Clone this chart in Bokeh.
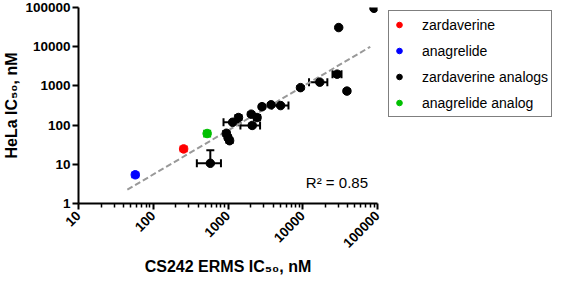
from bokeh.plotting import figure
from bokeh.models import (Range1d, FixedTicker, Legend, LegendItem, Whisker, TeeHead,
                          ColumnDataSource, Label)
from bokeh.embed import file_html
from bokeh.resources import INLINE

# ---------------- data ----------------
zard_x = [255]
zard_y = [24.7]
zard_ylo = [21.5]
zard_yhi = [28.5]

anag_x = [57.5]
anag_y = [5.4]
anag_ylo = [4.7]
anag_yhi = [6.2]

anag_an_x = [526]
anag_an_y = [61]
anag_an_ylo = [51]
anag_an_yhi = [72]

analog_x = [580, 950, 1000, 1050, 1153, 1380, 2046, 2449, 2107, 2850, 3773, 5056,
            9330, 16900, 28840, 38990, 30270, 89700]
analog_y = [10.6, 62, 48, 40, 118, 156, 190, 156, 98, 295, 330, 315,
            903, 1247, 1993, 737, 30800, 95500]
analog_xlo = [383, 950, 1000, 1050, 871, 1380, 2046, 2449, 1466, 2850, 3773, 3853,
              9330, 12130, 25000, 38990, 30270, 89700]
analog_xhi = [805, 950, 1000, 1050, 1380, 1380, 2046, 2449, 2685, 2850, 3773, 6442,
              9330, 21330, 33000, 38990, 30270, 89700]
analog_ylo = [10.6, 53, 42, 35, 118, 135, 172, 135, 88, 265, 300, 315,
              820, 1247, 1750, 660, 30800, 95500]
analog_yhi = [22.8, 71, 55, 46, 118, 180, 210, 180, 110, 330, 365, 315,
              990, 1247, 2250, 820, 30800, 95500]

fit_x = [45, 80000]
fit_y = [2.25, 9950]

x_major = [10, 100, 1000, 10000, 100000]
x_minor = [m * d for d in [10, 100, 1000, 10000] for m in range(2, 10)]
y_major = [1, 10, 100, 1000, 10000, 100000]

r2_text = "R² = 0.85"

FONT = "Liberation Sans"

FL, FW, FR = 71, 299, 183
FT, FH, FB = 7, 196, 66

p = figure(frame_width=FW, frame_height=FH, x_axis_type="log", y_axis_type="log",
           x_range=Range1d(10, 100000), y_range=Range1d(1, 100000),
           output_backend="svg", toolbar_location=None,
           min_border_top=FT, min_border_left=FL, min_border_bottom=FB,
           min_border_right=FR)
p.outline_line_color = None
p.xgrid.visible = False
p.ygrid.visible = False
p.background_fill_color = "white"
p.border_fill_color = "white"

# axes
for ax in (p.xaxis[0], p.yaxis[0]):
    ax.axis_line_width = 2
    ax.axis_line_color = "black"
    ax.major_tick_line_width = 2
    ax.major_tick_line_color = "black"
    ax.major_tick_out = 6
    ax.major_tick_in = 0
    ax.minor_tick_line_width = 1.5
    ax.minor_tick_line_color = "black"
    ax.minor_tick_out = 4
    ax.minor_tick_in = 0
    ax.major_label_text_font = FONT
    ax.major_label_text_font_style = "bold"
    ax.major_label_text_font_size = "13.5px"
    ax.major_label_text_color = "black"
    ax.axis_label_text_font = FONT
    ax.axis_label_text_font_style = "bold"
    ax.axis_label_text_font_size = "16px"
    ax.axis_label_text_color = "black"

p.xaxis[0].ticker = FixedTicker(ticks=x_major, minor_ticks=x_minor)
p.yaxis[0].ticker = FixedTicker(ticks=y_major, minor_ticks=[])
p.xaxis[0].major_label_overrides = {v: str(v) for v in x_major}
p.yaxis[0].major_label_overrides = {v: str(v) for v in y_major}
p.xaxis[0].major_label_orientation = 0.785398
p.xaxis[0].major_label_standoff = 4
p.yaxis[0].major_label_standoff = 2
p.xaxis[0].axis_label_standoff = 3
p.yaxis[0].axis_label_standoff = 2
p.xaxis[0].axis_label = "CS242 ERMS IC₅₀, nM"
p.yaxis[0].axis_label = "HeLa IC₅₀, nM"

# fit line
p.line(fit_x, fit_y, line_color="#999999", line_width=2, line_dash="6 3")

# error bars
def add_err(xs, ys, xlo, xhi, ylo, yhi, color):
    xi = [i for i in range(len(xs)) if xlo[i] != xhi[i]]
    if xi:
        s = ColumnDataSource(dict(b=[ys[i] for i in xi], lo=[xlo[i] for i in xi],
                                  hi=[xhi[i] for i in xi]))
        p.add_layout(Whisker(base="b", lower="lo", upper="hi", dimension="width", source=s,
                             line_color=color, line_width=2,
                             lower_head=TeeHead(size=8, line_color=color, line_width=2),
                             upper_head=TeeHead(size=8, line_color=color, line_width=2)))
    yi = [i for i in range(len(xs)) if ylo[i] != yhi[i]]
    if yi:
        s = ColumnDataSource(dict(b=[xs[i] for i in yi], lo=[ylo[i] for i in yi],
                                  hi=[yhi[i] for i in yi]))
        p.add_layout(Whisker(base="b", lower="lo", upper="hi", dimension="height", source=s,
                             line_color=color, line_width=2,
                             lower_head=TeeHead(size=8, line_color=color, line_width=2),
                             upper_head=TeeHead(size=8, line_color=color, line_width=2)))

add_err(analog_x, analog_y, analog_xlo, analog_xhi, analog_ylo, analog_yhi, "black")
add_err(zard_x, zard_y, zard_x, zard_x, zard_ylo, zard_yhi, "#ff0000")
add_err(anag_x, anag_y, anag_x, anag_x, anag_ylo, anag_yhi, "#0000ff")
add_err(anag_an_x, anag_an_y, anag_an_x, anag_an_x, anag_an_ylo, anag_an_yhi, "#00c000")

r_zard = p.scatter(zard_x, zard_y, size=8.5, color="#ff0000")
r_anag = p.scatter(anag_x, anag_y, size=8.5, color="#0000ff")
r_anal = p.scatter(analog_x, analog_y, size=8.5, color="black")
r_anan = p.scatter(anag_an_x, anag_an_y, size=8.5, color="#00c000")

p.add_layout(Label(x=74600, y=2.1, text=r2_text, text_align="right",
                   text_font=FONT, text_font_size="15px", text_color="black"))

legend = Legend(items=[
    LegendItem(label="zardaverine", renderers=[r_zard]),
    LegendItem(label="anagrelide", renderers=[r_anag]),
    LegendItem(label="zardaverine analogs", renderers=[r_anal]),
    LegendItem(label="anagrelide analog", renderers=[r_anan]),
], location=(11, FH - 110))
legend.label_text_font = FONT
legend.label_text_font_size = "14px"
legend.label_text_color = "black"
legend.border_line_color = "black"
legend.border_line_width = 1.5
legend.padding = 3
legend.spacing = 5
legend.label_height = 21
legend.glyph_height = 21
legend.glyph_width = 14
legend.label_standoff = 16
legend.margin = 0
legend.background_fill_alpha = 1
p.add_layout(legend, "right")

open("out.html", "w").write(file_html(p, INLINE))
